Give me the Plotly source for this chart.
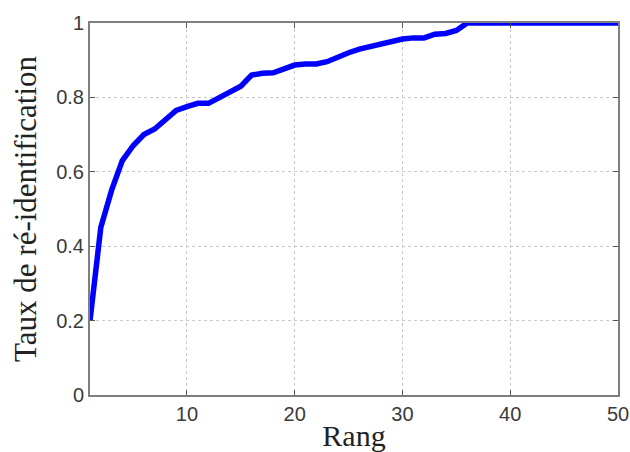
import plotly.graph_objects as go

rank = list(range(1, 51))
rate = [0.20, 0.45, 0.55, 0.63, 0.67, 0.70, 0.715, 0.74, 0.765, 0.775,
        0.784, 0.784, 0.80, 0.815, 0.83, 0.86, 0.865, 0.866, 0.875, 0.887,
        0.89, 0.89, 0.896, 0.91, 0.92, 0.93, 0.937, 0.945, 0.952, 0.957,
        0.96, 0.96, 0.97, 0.972, 0.98, 1.0, 1.0, 1.0, 1.0, 1.0,
        1.0, 1.0, 1.0, 1.0, 1.0, 1.0, 1.0, 1.0, 1.0, 1.0]

x_ticks = [10, 20, 30, 40, 50]
y_ticks = [0, 0.2, 0.4, 0.6, 0.8, 1]
y_tick_labels = ["0", "0.2", "0.4", "0.6", "0.8", "1"]

fig = go.Figure()
fig.add_trace(go.Scatter(x=rank, y=rate, mode="lines",
                         line=dict(color="#0000FF", width=5.5),
                         showlegend=False))

axis_common = dict(
    showline=True, linecolor="#7f7f7f", linewidth=2, mirror="ticks",
    ticks="inside", ticklen=5, tickcolor="#555555",
    showgrid=True, gridcolor="#c8c8c8", griddash="dot", gridwidth=1,
    zeroline=False, automargin=False,
    tickfont=dict(family="Liberation Sans, Arial, sans-serif", size=20, color="#3a3a3a"),
)

fig.update_xaxes(range=[1, 50], tickvals=x_ticks,
                 title=dict(text="Rang", standoff=7,
                            font=dict(family="Liberation Serif, Times New Roman, serif",
                                      size=30, color="#222222")),
                 **axis_common)
fig.update_yaxes(range=[0, 1], tickvals=y_ticks, ticktext=y_tick_labels,
                 title=dict(text="Taux de ré-identification", standoff=10,
                            font=dict(family="Liberation Serif, Times New Roman, serif",
                                      size=31, color="#222222")),
                 **axis_common)

fig.update_layout(width=630, height=452,
                  margin=dict(l=90, r=12, t=23, b=57),
                  plot_bgcolor="white", paper_bgcolor="white")

fig.write_html("out.html")
